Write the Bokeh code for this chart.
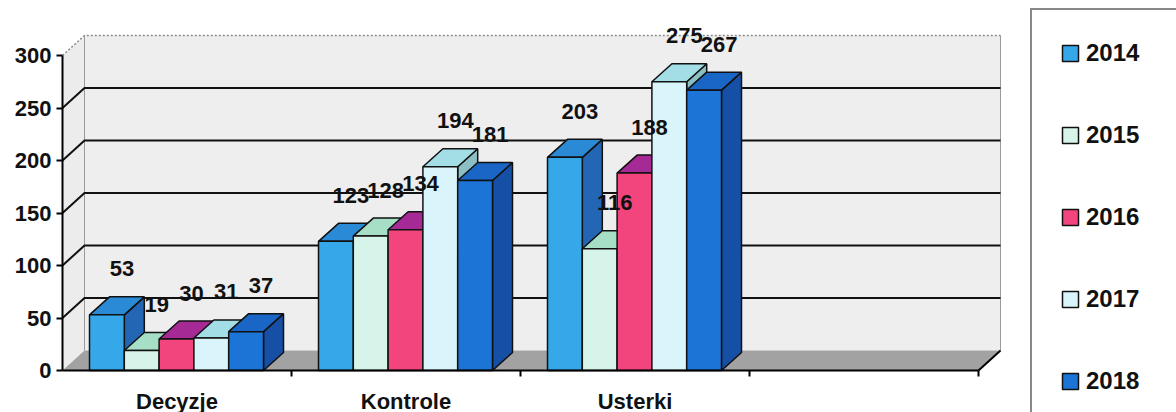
from bokeh.plotting import figure
from bokeh.models import Range1d, FixedTicker, Legend, LegendItem, ColumnDataSource
from bokeh.embed import file_html
from bokeh.resources import INLINE
from bokeh.core.properties import value

# ---------------- data ----------------
categories = ["Decyzje", "Kontrole", "Usterki"]
years = ["2014", "2015", "2016", "2017", "2018"]
decyzje = [53, 19, 30, 31, 37]
kontrole = [123, 128, 134, 194, 181]
usterki = [203, 116, 188, 275, 267]
y_ticks = [0, 50, 100, 150, 200, 250, 300]

front_colors = ["#36a8ea", "#d6f4ea", "#f2457d", "#d9f4fa", "#1b74d6"]
top_colors = ["#2a8ad6", "#a6dfc6", "#a52a96", "#a3dde6", "#1a66c6"]
side_colors = ["#2266b4", "#8cc4ad", "#8a2070", "#8bbfc4", "#164fa6"]

# ---------------- layout constants ----------------
FONT = "Liberation Sans"
N_SLOTS = 4                # category slots on the floor (last one empty)
PX_X = 229.0               # pixels per category slot
PX_Y = 1.05                # pixels per value unit
W, H = 1176, 412
AX_X0 = 62                 # canvas x of the value axis
AX_Y0 = 370                # canvas y of the category axis

BAR_OFF = 27 / PX_X        # gap before first bar in a slot
BAR_W = 34.8 / PX_X        # bar width
DX, DY = 20 / PX_X, 18 / PX_Y   # bar depth projection
WX, WY = 22 / PX_X, 20 / PX_Y   # wall depth projection
YMAX = y_ticks[-1]

series = list(zip(decyzje, kontrole, usterki))  # per year -> per category

p = figure(width=W, height=H, output_backend="svg", toolbar_location=None,
           x_range=Range1d(-AX_X0 / PX_X, (W - AX_X0) / PX_X),
           y_range=Range1d(-(H - AX_Y0) / PX_Y, AX_Y0 / PX_Y),
           min_border_left=0, min_border_right=0, min_border_top=0,
           min_border_bottom=0)
p.outline_line_color = None
p.xgrid.visible = False
p.ygrid.visible = False
p.background_fill_color = "white"
p.border_fill_color = "white"

# ---------------- 3D walls and floor ----------------
p.patch([0, WX, WX, 0], [0, WY, YMAX + WY, YMAX], fill_color="#ececec", line_color=None)
p.quad(left=WX, right=N_SLOTS + WX, bottom=WY, top=YMAX + WY,
       fill_color="#eeeeee", line_color=None)
p.patch([0, N_SLOTS, N_SLOTS + WX, WX], [0, 0, WY, WY], fill_color="#a2a2a2", line_color=None)
# wall edges
p.multi_line([[WX, WX], [N_SLOTS + WX, N_SLOTS + WX]],
             [[WY, YMAX + WY], [WY, YMAX + WY]], line_color="#9a9a9a", line_width=1)
p.multi_line([[0, WX, N_SLOTS + WX]], [[YMAX, YMAX + WY, YMAX + WY]],
             line_color="#8a8a8a", line_width=1.5, line_dash="2 2")
p.line([N_SLOTS, N_SLOTS + WX], [0, WY], line_color="black", line_width=2)
# gridlines on side and back wall
gx = [[0, WX, N_SLOTS + WX] for v in y_ticks[1:-1]]
gy = [[v, v + WY, v + WY] for v in y_ticks[1:-1]]
p.multi_line(gx, gy, line_color="#111111", line_width=2)

# ---------------- 3D bars ----------------
legend_items = []
lab_x, lab_y, lab_t = [], [], []
for i, yr in enumerate(years):
    vals = series[i]
    lefts = [c + BAR_OFF + i * BAR_W for c in range(len(categories))]
    rights = [l + BAR_W for l in lefts]
    side_xs = [[r, r + DX, r + DX, r] for r in rights]
    side_ys = [[0, DY, v + DY, v] for v in vals]
    top_xs = [[l, l + DX, r + DX, r] for l, r in zip(lefts, rights)]
    top_ys = [[v, v + DY, v + DY, v] for v in vals]
    p.patches(side_xs, side_ys, fill_color=side_colors[i], line_color="#111111", line_width=1.5)
    p.patches(top_xs, top_ys, fill_color=top_colors[i], line_color="#111111", line_width=1.5)
    src = ColumnDataSource(dict(left=lefts, right=rights, top=list(vals), bottom=[0] * len(vals)))
    r = p.quad(left="left", right="right", top="top", bottom="bottom", source=src,
               fill_color=front_colors[i], line_color="#111111", line_width=1.5)
    legend_items.append(LegendItem(label=yr, renderers=[r]))
    for l, v in zip(lefts, vals):
        lab_x.append(l + BAR_W / 2 + 15 / PX_X)
        lab_y.append(v + 46 / PX_Y)
        lab_t.append(str(v))

p.text(x=lab_x, y=lab_y, text=lab_t, text_font=value(FONT), text_font_style="bold",
       text_font_size="22px", text_color="#111111", text_align="center",
       text_baseline="middle")

# ---------------- axes ----------------
ya = p.yaxis[0]
ya.fixed_location = 0
ya.ticker = FixedTicker(ticks=y_ticks)
ya.bounds = (0, YMAX)
ya.axis_line_width = 2
ya.axis_line_color = "black"
ya.major_tick_out = 6
ya.major_tick_in = 0
ya.major_tick_line_width = 2
ya.minor_tick_out = 0
ya.minor_tick_in = 0
ya.major_label_standoff = 5
ya.major_label_text_font = FONT
ya.major_label_text_font_style = "bold"
ya.major_label_text_font_size = "22px"
ya.major_label_text_color = "#111111"

xa = p.xaxis[0]
xa.fixed_location = 0
centers = [c + 0.5 for c in range(len(categories))]
xa.ticker = FixedTicker(ticks=centers, minor_ticks=list(range(1, N_SLOTS + 1)))
xa.major_label_overrides = {c: name for c, name in zip(centers, categories)}
xa.bounds = (0, N_SLOTS)
xa.axis_line_width = 2
xa.axis_line_color = "black"
xa.major_tick_out = 0
xa.major_tick_in = 0
xa.minor_tick_out = 6
xa.minor_tick_in = 0
xa.minor_tick_line_width = 2
xa.minor_tick_line_color = "black"
xa.major_label_standoff = 12
xa.major_label_text_font = FONT
xa.major_label_text_font_style = "bold"
xa.major_label_text_font_size = "22px"
xa.major_label_text_color = "#111111"

# ---------------- legend ----------------
legend = Legend(items=legend_items, location=(1030, -14),
                glyph_width=20, glyph_height=20, label_height=30, label_width=70,
                label_standoff=6, spacing=52, padding=28,
                label_text_font=FONT, label_text_font_style="bold",
                label_text_font_size="24px", label_text_color="#111111",
                border_line_color="#111111", border_line_width=2,
                background_fill_color="white", background_fill_alpha=1.0)
p.add_layout(legend)

open("out.html", "w").write(file_html(p, INLINE))
